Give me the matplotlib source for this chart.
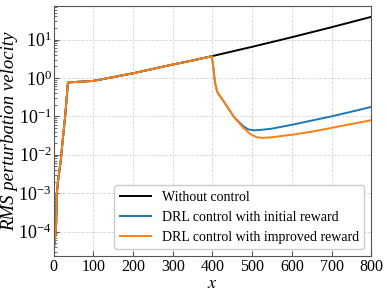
import matplotlib
matplotlib.use("Agg")
import matplotlib.pyplot as plt
import numpy as np
from matplotlib.ticker import NullFormatter

plt.rcParams['font.family'] = ['Liberation Serif', 'DejaVu Serif']
plt.rcParams['mathtext.fontset'] = 'stix'

# shared growth phase (all three cases identical up to x ~ 400)
x_shared = [1, 6, 8, 12, 18, 22, 29, 36, 60, 100, 150, 200, 250, 300, 350, 398]
u_shared = [4.0e-5, 1.26e-4, 1.0e-3, 2.5e-3, 7.1e-3, 0.020, 0.10, 0.76, 0.79, 0.835,
            1.05, 1.32, 1.72, 2.23, 2.85, 3.67]

# without control
x_free = [450, 500, 550, 600, 650, 700, 750, 800]
u_free = [4.9, 6.46, 8.6, 11.5, 15.5, 20.9, 28.5, 38.9]

# common drop once control starts
x_drop = [402, 406, 412, 430, 453]
u_drop = [1.93, 0.79, 0.43, 0.23, 0.10]

# DRL control, initial reward
x_init = [460, 478, 490, 505, 525, 550, 600, 650, 700, 750, 800]
u_init = [0.0832, 0.0550, 0.0457, 0.0432, 0.0447, 0.0479, 0.0603, 0.0776, 0.100, 0.132, 0.176]

# DRL control, improved reward
x_impr = [460, 478, 495, 510, 525, 550, 575, 600, 650, 700, 750, 800]
u_impr = [0.0813, 0.0501, 0.0347, 0.0288, 0.0275, 0.0285, 0.0309, 0.0331, 0.0398, 0.0501, 0.0631, 0.0794]

labels = ['Without control', 'DRL control with initial reward', 'DRL control with improved reward']
colors = ['black', '#1f77b4', '#ff7f0e']
y_major = [1e-4, 1e-3, 1e-2, 1e-1, 1e0, 1e1]

fig = plt.figure(figsize=(3.86, 2.91), dpi=100)
ax = fig.add_axes([0.139, 0.12, 0.823, 0.859])

ax.plot(x_shared + x_free, u_shared + u_free, color=colors[0], lw=1.4, label=labels[0])
ax.plot(x_shared + x_drop + x_init, u_shared + u_drop + u_init, color=colors[1], lw=1.4, label=labels[1])
ax.plot(x_shared + x_drop + x_impr, u_shared + u_drop + u_impr, color=colors[2], lw=1.4, label=labels[2])

ax.set_yscale('log')
ax.set_xlim(0, 800)
ax.set_ylim(2.3e-5, 74)
ax.set_xticks(np.arange(0, 801, 100))
ax.set_yticks(y_major)
ax.yaxis.set_minor_formatter(NullFormatter())
ax.grid(True, which='major', ls='--', lw=0.6, color='#d4d4d4')
ax.tick_params(which='both', direction='in', color='#555555')
ax.tick_params(axis='x', labelsize=11.5, pad=2)
ax.tick_params(axis='y', labelsize=13, pad=1.5)
for s in ax.spines.values():
    s.set_color('#555555')

ax.set_xlabel('$x$', fontsize=13, labelpad=0)
ax.set_ylabel('RMS perturbation velocity', fontsize=13.5, style='italic', labelpad=0)

leg = ax.legend(loc='lower right', fontsize=10, frameon=True, fancybox=True,
                edgecolor='#cccccc', framealpha=1, handlelength=2.2,
                borderaxespad=0.5)

fig.savefig('out.png', dpi=100)
